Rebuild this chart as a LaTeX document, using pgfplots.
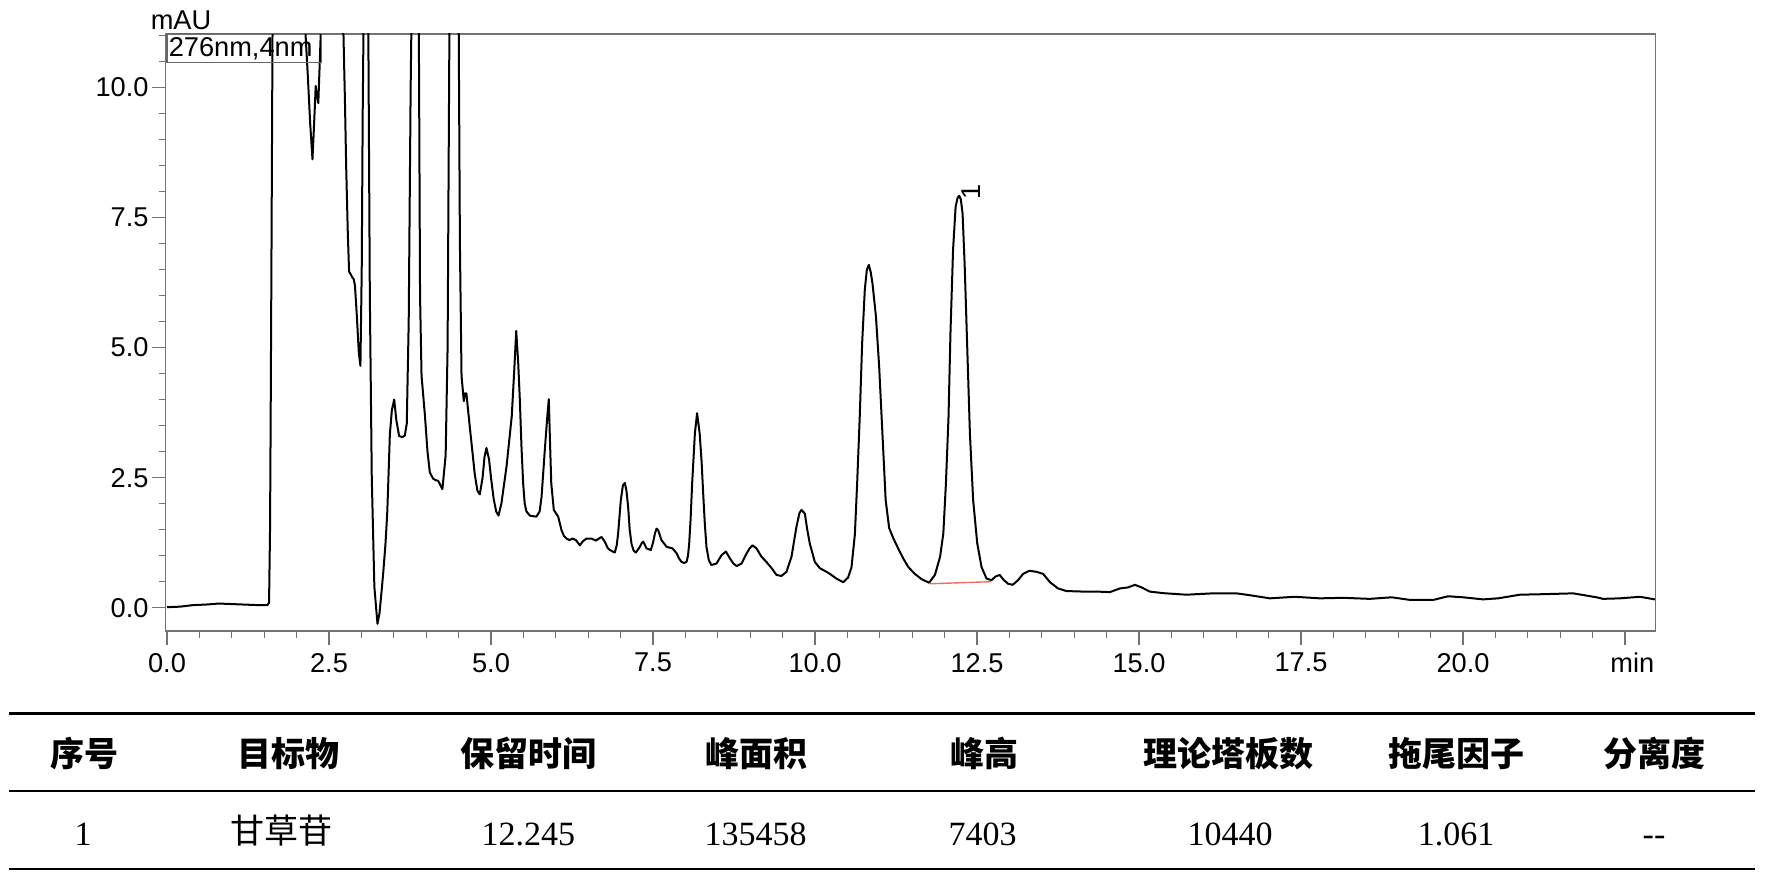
\documentclass[border=0pt]{standalone}
\usepackage{fontspec}
\setmainfont{Liberation Sans}
\newfontfamily\serif{Liberation Serif}
\newfontfamily\cjk{Noto Sans CJK SC}
\usepackage{pgfplots}
\pgfplotsset{compat=1.18}
\pgfplotstableread{
t v
0 0.01
0.2 0.02
0.4 0.05
0.6 0.06
0.8 0.08
1.0 0.07
1.2 0.06
1.4 0.05
1.55 0.05
1.575 0.1
1.59 1.5
1.60 3.7
1.615 7.5
1.63 11.5
1.66 20
1.9 25
2.08 20
2.13 11.2
2.17 10.3
2.21 9.3
2.245 8.62
2.27 9.3
2.295 10.03
2.315 9.85
2.335 9.70
2.355 10.4
2.385 11.5
2.45 20
2.6 22
2.70 14
2.72 11.2
2.745 9.8
2.765 8.48
2.79 7.2
2.81 6.46
2.84 6.4
2.86 6.35
2.88 6.32
2.90 6.2
2.93 5.6
2.96 4.9
2.985 4.65
3.005 6.5
3.02 9.5
3.035 11.5
3.07 20
3.105 11.5
3.13 6
3.16 2.5
3.2 0.4
3.248 -0.31
3.28 -0.1
3.31 0.3
3.336 0.66
3.37 1.2
3.398 1.80
3.42 2.6
3.439 3.33
3.47 3.8
3.506 4.00
3.54 3.6
3.582 3.30
3.63 3.28
3.67 3.31
3.70 3.54
3.73 5.5
3.76 10
3.775 11.5
3.83 20
3.885 11.5
3.905 6
3.928 4.46
3.98 3.70
4.02 3.0
4.056 2.60
4.107 2.48
4.15 2.45
4.184 2.44
4.25 2.28
4.30 2.93
4.33 5
4.36 11.5
4.44 20
4.50 11.5
4.52 7
4.545 4.46
4.58 3.97
4.60 4.12
4.62 4.12
4.673 3.47
4.75 2.56
4.79 2.25
4.827 2.18
4.87 2.5
4.90 2.9
4.93 3.07
4.97 2.85
5.0 2.5
5.04 2.1
5.08 1.85
5.115 1.77
5.16 2.0
5.24 2.72
5.32 3.68
5.36 4.6
5.389 5.32
5.42 4.7
5.445 3.99
5.47 3.1
5.496 2.39
5.52 2.0
5.547 1.85
5.60 1.77
5.65 1.76
5.70 1.75
5.75 1.85
5.78 2.13
5.83 3.03
5.87 3.7
5.892 4.01
5.91 3.2
5.93 2.39
5.969 1.88
6.036 1.75
6.088 1.49
6.125 1.38
6.165 1.33
6.21 1.30
6.257 1.33
6.31 1.30
6.37 1.20
6.42 1.28
6.474 1.33
6.55 1.33
6.617 1.29
6.705 1.36
6.756 1.27
6.80 1.15
6.833 1.11
6.91 1.06
6.94 1.2
6.962 1.43
7.003 2.07
7.035 2.35
7.065 2.40
7.09 2.25
7.116 1.94
7.14 1.5
7.168 1.23
7.20 1.10
7.235 1.06
7.297 1.17
7.33 1.25
7.35 1.27
7.40 1.14
7.466 1.11
7.50 1.25
7.53 1.43
7.555 1.52
7.58 1.49
7.63 1.30
7.71 1.17
7.80 1.14
7.863 1.05
7.90 0.95
7.94 0.88
7.98 0.86
8.017 0.88
8.04 1.0
8.058 1.23
8.08 1.7
8.104 2.39
8.146 3.35
8.18 3.74
8.22 3.35
8.25 2.8
8.274 2.20
8.30 1.6
8.325 1.17
8.36 0.92
8.40 0.82
8.48 0.85
8.557 1.01
8.624 1.08
8.686 0.95
8.74 0.85
8.79 0.80
8.866 0.85
8.943 1.04
8.99 1.14
9.035 1.20
9.097 1.14
9.174 0.98
9.25 0.88
9.33 0.76
9.405 0.63
9.482 0.61
9.56 0.69
9.637 0.98
9.714 1.56
9.76 1.82
9.79 1.88
9.843 1.81
9.88 1.5
9.92 1.23
9.997 0.88
10.074 0.76
10.177 0.69
10.23 0.65
10.33 0.56
10.434 0.49
10.51 0.58
10.563 0.78
10.615 1.41
10.65 2.39
10.69 3.67
10.727 5.08
10.768 6.11
10.80 6.5
10.83 6.59
10.86 6.45
10.887 6.23
10.94 5.60
10.99 4.63
11.04 3.35
11.09 2.07
11.144 1.53
11.21 1.33
11.283 1.14
11.36 0.95
11.44 0.78
11.54 0.65
11.643 0.55
11.76 0.48
11.85 0.63
11.93 0.98
11.98 1.43
12.02 2.39
12.06 3.67
12.09 5.28
12.13 6.88
12.17 7.71
12.20 7.88
12.225 7.92
12.25 7.85
12.277 7.58
12.31 6.56
12.35 4.96
12.39 3.35
12.44 2.07
12.503 1.24
12.57 0.78
12.646 0.56
12.723 0.53
12.786 0.60
12.85 0.63
12.914 0.53
12.98 0.46
13.05 0.44
13.134 0.53
13.21 0.65
13.305 0.71
13.418 0.69
13.52 0.65
13.626 0.49
13.75 0.37
13.88 0.32
14.14 0.31
14.343 0.31
14.55 0.30
14.703 0.37
14.83 0.39
14.936 0.44
15.04 0.39
15.166 0.31
15.37 0.28
15.73 0.25
16.14 0.276
16.505 0.276
16.71 0.24
17.02 0.18
17.404 0.21
17.79 0.18
18.15 0.19
18.56 0.17
18.90 0.20
19.18 0.15
19.54 0.15
19.77 0.22
20.0 0.20
20.31 0.16
20.54 0.18
20.877 0.25
21.24 0.26
21.70 0.276
22.06 0.20
22.16 0.17
22.42 0.18
22.73 0.21
22.96 0.16
}\chrom
\begin{document}
\begin{tikzpicture}[x=1pt,y=1pt]
\useasboundingbox (0,0) rectangle (885,437);
\begin{axis}[
  at={(82.85pt,121.5pt)}, anchor=south west, scale only axis,
  width=744.9pt, height=298.5pt,
  xmin=-0.02, xmax=22.97, ymin=-0.448, ymax=11.03,
  axis line style={draw=black!55, line width=0.7pt},
  tick align=outside, xtick pos=bottom, ytick pos=left,
  xtick={0,2.5,5,7.5,10,12.5,15,17.5,20},
  xticklabels={0.0,2.5,5.0,7.5,10.0,12.5,15.0,17.5,20.0},
  ytick={0,2.5,5,7.5,10},
  yticklabels={0.0,2.5,5.0,7.5,10.0},
  minor xtick={0.5,1,1.5,2,3,3.5,4,4.5,5.5,6,6.5,7,8,8.5,9,9.5,10.5,11,11.5,12,13,13.5,14,14.5,15.5,16,16.5,17,18,18.5,19,19.5,20.5,21,21.5,22,23},
  minor ytick={0.5,1,1.5,2,3,3.5,4,4.5,5.5,6,6.5,7,8,8.5,9,9.5,10.5,11},
  extra x ticks={22.5}, extra x tick labels={min},
  extra x tick style={xticklabel style={xshift=3.6pt}},
  major tick length=6.9pt, minor tick length=3.6pt,
  tick style={draw=black!55, line width=0.6pt},
  ticklabel style={font=\fontsize{13.6}{15}\selectfont, inner sep=0pt},
  xticklabel style={anchor=north, yshift=-4pt},
  yticklabel style={anchor=east, xshift=-1.5pt},
]
\addplot[black, line width=1pt, line join=round] table[x=t,y=v] {\chrom};
\addplot[color={rgb,255:red,240;green,110;blue,100}, line width=0.7pt] coordinates {(11.77,0.46) (12.72,0.50)};
\node[rotate=90, font=\fontsize{13.6}{15}\selectfont, inner sep=0pt] at (axis cs:12.41,8.0) {1};
\end{axis}
\draw[draw=black!60, line width=0.6pt] (83.45,405.65) rectangle (160.75,420.35);
\node[anchor=base west, inner sep=0pt, font=\fontsize{13.6}{15}\selectfont] at (84.2,408.65) {276nm,4nm};
\node[anchor=base west, inner sep=0pt, font=\fontsize{13.6}{15}\selectfont] at (75.2,422.35) {mAU};
% table
\draw[line width=1.35pt] (4.5,80.25) -- (877.5,80.25);
\draw[line width=1.15pt] (4.5,41.65) -- (877.5,41.65);
\draw[line width=1.35pt] (4.5,2.5) -- (877.5,2.5);
\begin{scope}[every node/.style={inner sep=0pt, anchor=center, font=\cjk\bfseries\fontsize{17}{19}\selectfont}]
\node at (42,60.25) {序号};
\node at (144,60.25) {目标物};
\node at (264,60.25) {保留时间};
\node at (378,60.25) {峰面积};
\node at (492.4,60.25) {峰高};
\node at (614,60.25) {理论塔板数};
\node at (728,60.25) {拖尾因子};
\node at (827,60.25) {分离度};
\end{scope}
\node[inner sep=0pt, anchor=center, font=\cjk\fontsize{17}{19}\selectfont] at (140.8,21.75) {甘草苷};
\begin{scope}[every node/.style={inner sep=0pt, anchor=base, font=\serif\fontsize{17}{19}\selectfont}]
\node at (41.5,14.5) {1};
\node at (264.2,14.5) {12.245};
\node at (377.8,14.5) {135458};
\node at (491.3,14.5) {7403};
\node at (615,14.5) {10440};
\node at (728,14.5) {1.061};
\node at (827,14.5) {-{}-};
\end{scope}
\end{tikzpicture}
\end{document}
